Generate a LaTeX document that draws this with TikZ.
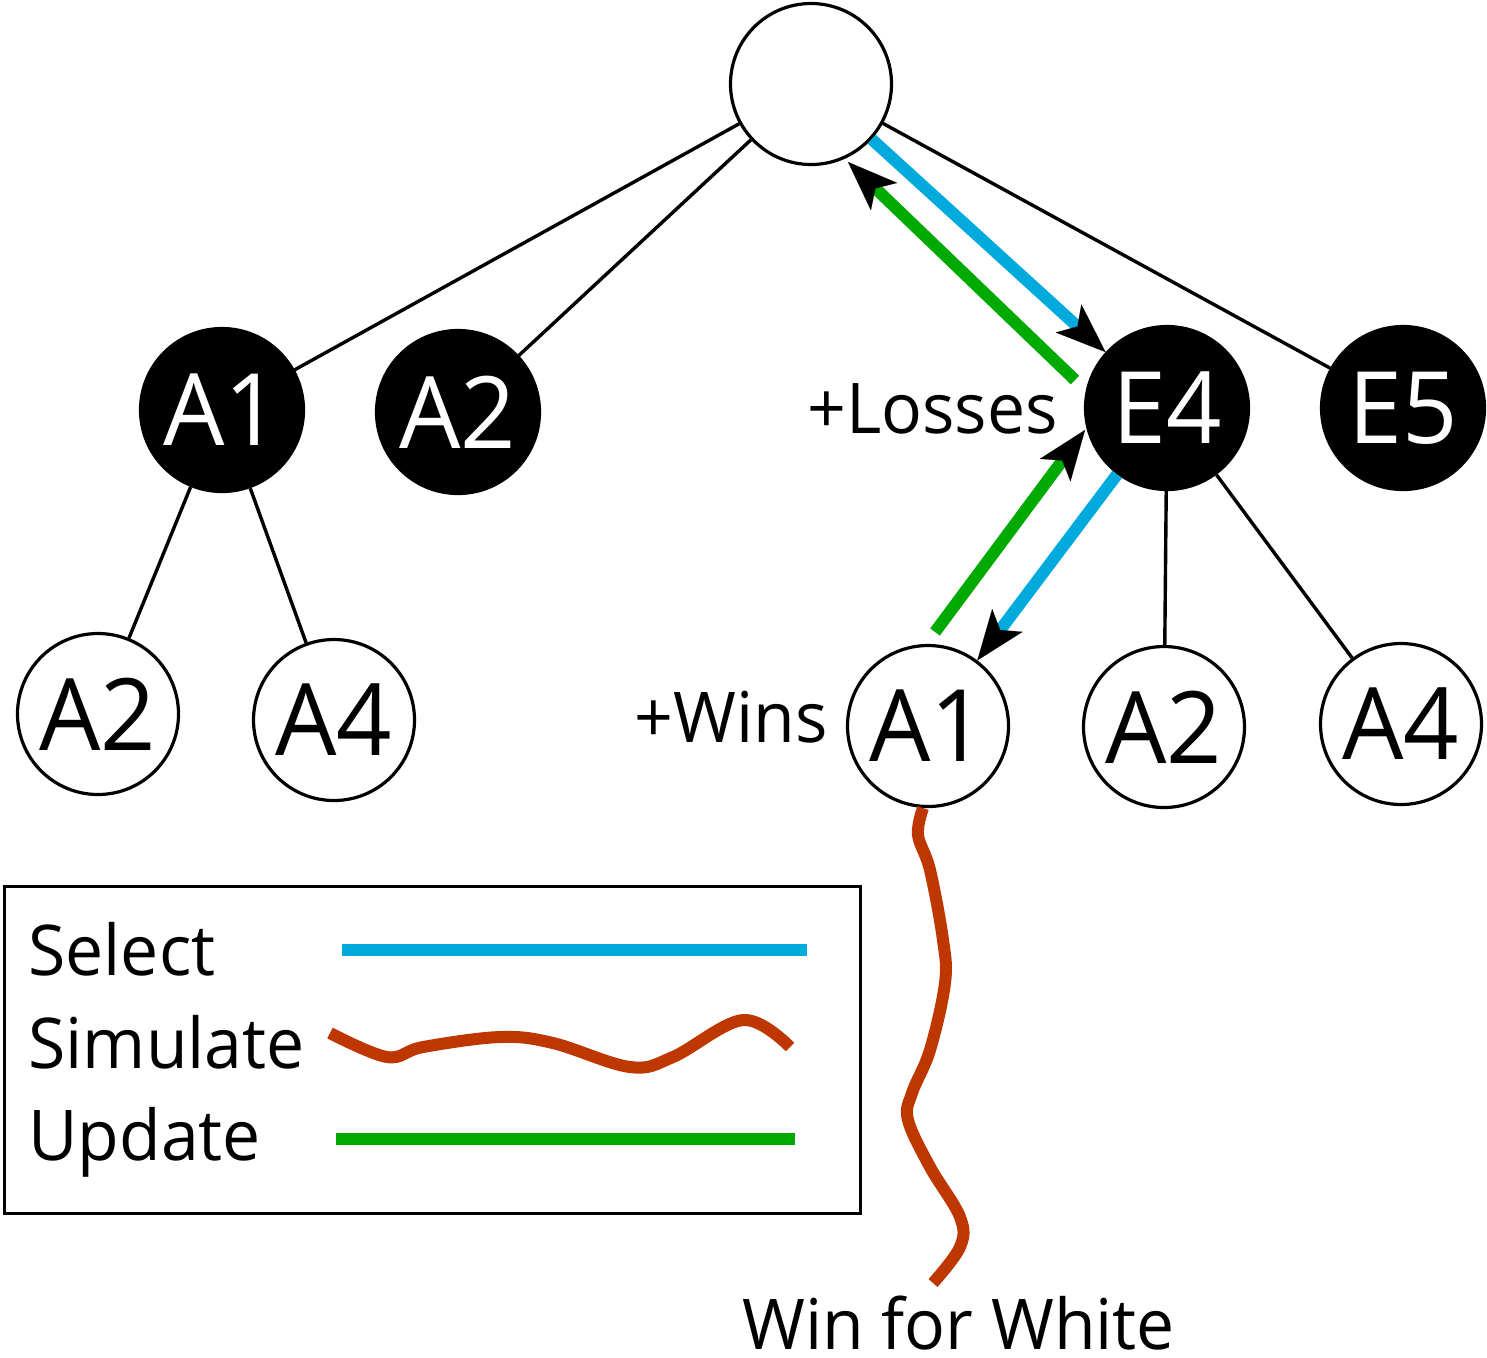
\documentclass[tikz,border=0pt]{standalone}
\usepackage{fontspec}
\setmainfont{Open Sans}[FakeStretch=0.97]
\usetikzlibrary{arrows.meta,calc}
\definecolor{selblue}{RGB}{0,170,221}
\definecolor{updgreen}{RGB}{0,170,0}
\definecolor{simred}{RGB}{190,55,0}
\begin{document}
\begin{tikzpicture}[x=0.5pt,y=-0.5pt,
  wnode/.style={circle,draw=black,fill=white,line width=1.6pt,minimum size=80.5pt,inner sep=0pt,font=\fontsize{50}{60}\selectfont},
  bnode/.style={wnode,fill=black,text=white,minimum size=81.5pt},
  treeedge/.style={line width=1.7pt,draw=black},
  selectline/.style={line width=6pt,draw=selblue},
  updateline/.style={line width=6pt,draw=updgreen},
  simline/.style={line width=6pt,draw=simred},
  arr/.style={-{Stealth[length=25pt,width=19pt,inset=6pt,color=black,line width=0.01pt]}},
  lbl/.style={inner sep=0pt,font=\fontsize{35}{42}\selectfont}
]
\useasboundingbox (0,0) rectangle (1487,1357);
% nodes
\node[wnode] (root) at (811,84) {};
\node[bnode] (A1) at (222,410) {A1};
\node[bnode] (A2) at (458,412) {A2};
\node[bnode] (E4) at (1167,408) {E4};
\node[bnode] (E5) at (1403,408) {E5};
\node[wnode] (A2l) at (98,714) {A2};
\node[wnode] (A4l) at (334,720) {A4};
\node[wnode] (A1w) at (928,726) {A1};
\node[wnode] (A2r) at (1164,727) {A2};
\node[wnode] (A4r) at (1401,724) {A4};
% tree edges
\draw[treeedge] (root) -- (A1);
\draw[treeedge] (root) -- (A2);
\draw[treeedge] (root) -- (E5);
\draw[treeedge] (A1) -- (A2l);
\draw[treeedge] (A1) -- (A4l);
\draw[treeedge] (E4) -- (A2r);
\draw[treeedge] (E4) -- (A4r);
% select
\draw[selectline,arr] (root) -- (E4);
\draw[selectline,arr] (E4) -- (A1w);
% update
\coordinate (g1a) at (1075,380);
\coordinate (g1b) at (848,162);
\draw[updateline,arr] (g1a) -- (g1b);
\coordinate (g2a) at (935,632);
\coordinate (g2b) at (1085,430);
\draw[updateline,arr] (g2a) -- (g2b);
% simulate
\coordinate (s0) at (923,808);
\coordinate (sEnd) at (933,1283);
\draw[simline] plot[smooth,tension=0.6] coordinates {(s0) (918,835) (930,870) (943,940) (945,983) (930,1050) (912,1093) (908,1120) (930,1167) (960,1217) (960,1247) (sEnd)};
% labels
\node[lbl,anchor=base east] (losses) at (1058,433) {+Losses};
\node[lbl,anchor=base east] (wins) at (828,742) {+Wins};
\node[lbl,anchor=base west] (white) at (742,1349) {Win for White};
% legend
\node[draw=black,line width=1.6pt,minimum width=428pt,minimum height=163.5pt,inner sep=0pt,anchor=north west] (legend) at (3,885) {};
\node[lbl,anchor=base west] (lsel) at (28,975) {Select};
\node[lbl,anchor=base west] (lsim) at (28,1068) {Simulate};
\node[lbl,anchor=base west] (lupd) at (28,1160) {Update};
\coordinate (ls1) at (342,950);
\coordinate (ls2) at (807,950);
\draw[selectline] (ls1) -- (ls2);
\coordinate (lu1) at (336,1139);
\coordinate (lu2) at (795,1139);
\draw[updateline] (lu1) -- (lu2);
\coordinate (lr1) at (330,1033);
\coordinate (lr2) at (790,1047);
\draw[simline] plot[smooth,tension=0.6] coordinates {(lr1) (387,1057) (423,1047) (500,1037) (553,1043) (630,1067) (673,1057) (743,1020) (lr2)};
\end{tikzpicture}
\end{document}
